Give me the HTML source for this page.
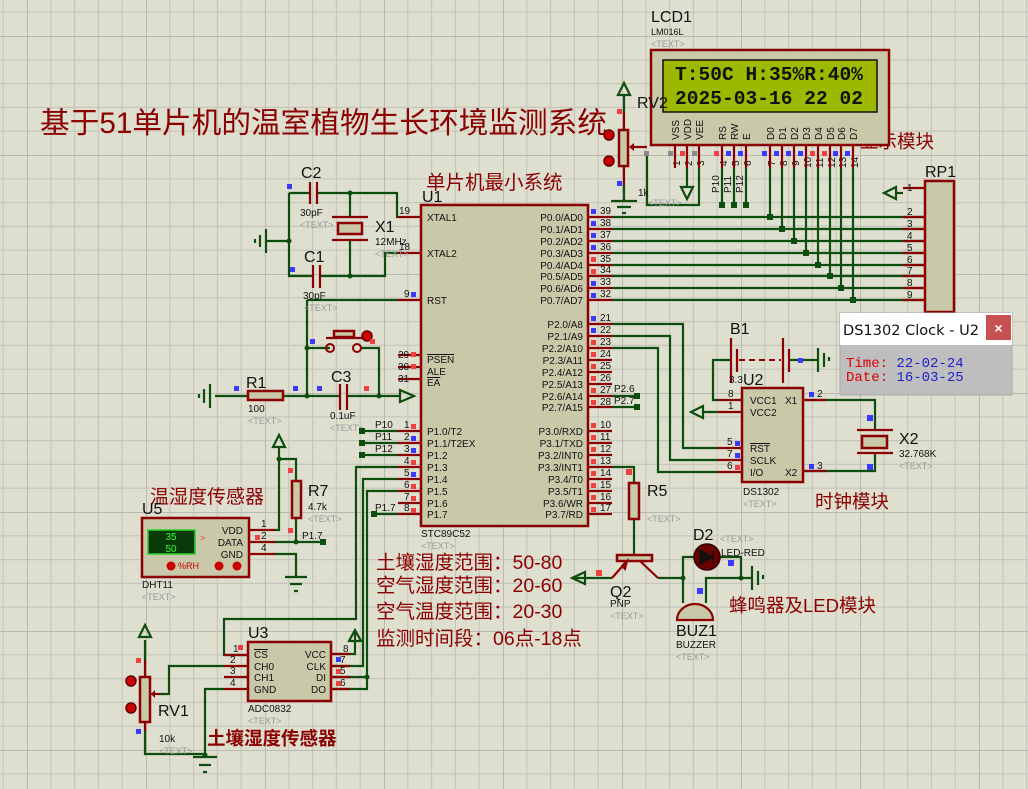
<!DOCTYPE html>
<html><head><meta charset="utf-8"><style>
html,body{margin:0;padding:0;background:#dfdfd0;}
svg{display:block;}
text{font-family:"Liberation Sans","Noto Sans CJK SC",sans-serif;}
text.mono,text.mono tspan{font-family:"Liberation Mono","DejaVu Sans Mono",monospace;}
text.dj{font-family:"DejaVu Sans","Liberation Sans",sans-serif;}
.w{stroke:#0d4d0d;stroke-width:2.2;fill:none;}
.p{stroke:#8b0000;stroke-width:2.2;fill:none;}
.b{stroke:#8b0000;stroke-width:2.5;fill:#c9c9aa;}
.s{font-size:10px;fill:#111;}
.t{font-size:9px;fill:#999;}
.cn{fill:#8b0000;}
.lb{font-size:16px;fill:#111;}
.n{font-size:10px;fill:#111;}
</style></head><body>
<svg width="1028" height="789" viewBox="0 0 1028 789" xmlns="http://www.w3.org/2000/svg">
<defs>
<pattern id="g" x="27" y="36" width="119" height="119" patternUnits="userSpaceOnUse">
<path d="M23.8 0V119M47.6 0V119M71.4 0V119M95.2 0V119M0 23.8H119M0 47.6H119M0 71.4H119M0 95.2H119" stroke="#c6c6bb" stroke-width="1.2"/>
<path d="M0 0V119M0 0H119" stroke="#b9b9b0" stroke-width="2"/>
</pattern>
</defs>
<rect width="1028" height="789" fill="#dfdfd0"/>
<rect width="1028" height="789" fill="url(#g)"/>

<!-- Title -->
<text x="40" y="133" class="cn" font-size="29.5" textLength="567" lengthAdjust="spacingAndGlyphs">基于51单片机的温室植物生长环境监测系统</text>
<text x="426" y="189" class="cn" font-size="19.5">单片机最小系统</text>
<text x="860" y="148" class="cn" font-size="18.5">显示模块</text>
<text x="150" y="503" class="cn" font-size="19">温湿度传感器</text>
<text x="207" y="745" class="cn" font-size="18.5" font-weight="bold">土壤湿度传感器</text>
<text x="815" y="508" class="cn" font-size="18.5">时钟模块</text>
<text x="729" y="612" class="cn" font-size="18.5">蜂鸣器及LED模块</text>
<g class="cn" font-size="19.5">
<text x="376" y="569">土壤湿度范围：50-80</text>
<text x="376" y="592">空气湿度范围：20-60</text>
<text x="376" y="618">空气温度范围：20-30</text>
<text x="376" y="645">监测时间段：06点-18点</text>
</g>

<!-- U1 -->
<rect x="421" y="205" width="167" height="321" class="b"/>
<text x="422" y="202" class="lb">U1</text>
<text x="421" y="537" class="s">STC89C52</text><text x="421" y="549" class="t">&lt;TEXT&gt;</text>
<g class="p">
<path d="M398 217H421M398 253H421M398 300H421M398 355H421M398 367H421M398 379H421"/>
<path d="M398 431H421M398 443H421M398 455H421M398 467H421M398 479H421M398 491H421M398 503H421M398 514H421"/>
<path d="M588 217H612M588 229H612M588 241H612M588 253H612M588 265H612M588 276H612M588 288H612M588 300H612"/>
<path d="M588 324H612M588 336H612M588 348H612M588 360H612M588 372H612M588 384H612M588 396H612M588 407H612"/>
<path d="M588 431H612M588 443H612M588 455H612M588 467H612M588 479H612M588 491H612M588 503H612M588 514H612"/>
</g>
<g class="s">
<text x="427" y="221">XTAL1</text><text x="427" y="257">XTAL2</text><text x="427" y="304">RST</text>
<text x="427" y="363" text-decoration="overline">PSEN</text><text x="427" y="375">ALE</text><text x="427" y="386" text-decoration="overline">EA</text>
<text x="427" y="435">P1.0/T2</text><text x="427" y="447">P1.1/T2EX</text><text x="427" y="459">P1.2</text><text x="427" y="471">P1.3</text><text x="427" y="483">P1.4</text><text x="427" y="495">P1.5</text><text x="427" y="507">P1.6</text><text x="427" y="518">P1.7</text>
</g>
<g class="s" text-anchor="end">
<text x="583" y="221">P0.0/AD0</text><text x="583" y="233">P0.1/AD1</text><text x="583" y="245">P0.2/AD2</text><text x="583" y="257">P0.3/AD3</text><text x="583" y="269">P0.4/AD4</text><text x="583" y="280">P0.5/AD5</text><text x="583" y="292">P0.6/AD6</text><text x="583" y="304">P0.7/AD7</text>
<text x="583" y="328">P2.0/A8</text><text x="583" y="340">P2.1/A9</text><text x="583" y="352">P2.2/A10</text><text x="583" y="364">P2.3/A11</text><text x="583" y="376">P2.4/A12</text><text x="583" y="388">P2.5/A13</text><text x="583" y="400">P2.6/A14</text><text x="583" y="411">P2.7/A15</text>
<text x="583" y="435">P3.0/RXD</text><text x="583" y="447">P3.1/TXD</text><text x="583" y="459">P3.2/INT0</text><text x="583" y="471">P3.3/INT1</text><text x="583" y="483">P3.4/T0</text><text x="583" y="495">P3.5/T1</text><text x="583" y="507">P3.6/WR</text><text x="583" y="518">P3.7/RD</text>
</g>
<g class="n">
<text x="399" y="214">19</text><text x="399" y="250">18</text><text x="404" y="297">9</text><text x="398" y="358">29</text><text x="398" y="370">30</text><text x="398" y="382">31</text>
<text x="404" y="428">1</text><text x="404" y="440">2</text><text x="404" y="452">3</text><text x="404" y="464">4</text><text x="404" y="476">5</text><text x="404" y="488">6</text><text x="404" y="500">7</text><text x="404" y="511">8</text>
<text x="600" y="214">39</text><text x="600" y="226">38</text><text x="600" y="238">37</text><text x="600" y="250">36</text><text x="600" y="262">35</text><text x="600" y="273">34</text><text x="600" y="285">33</text><text x="600" y="297">32</text>
<text x="600" y="321">21</text><text x="600" y="333">22</text><text x="600" y="345">23</text><text x="600" y="357">24</text><text x="600" y="369">25</text><text x="600" y="381">26</text><text x="600" y="393">27</text><text x="600" y="405">28</text>
<text x="600" y="428">10</text><text x="600" y="440">11</text><text x="600" y="452">12</text><text x="600" y="464">13</text><text x="600" y="476">14</text><text x="600" y="488">15</text><text x="600" y="500">16</text><text x="600" y="511">17</text>
</g>
<g fill="#3a3aff"><rect x="591" y="209" width="5" height="5"/><rect x="591" y="221" width="5" height="5"/><rect x="591" y="233" width="5" height="5"/><rect x="591" y="245" width="5" height="5"/><rect x="591" y="281" width="5" height="5"/><rect x="591" y="293" width="5" height="5"/><rect x="591" y="316" width="5" height="5"/><rect x="591" y="328" width="5" height="5"/><rect x="411" y="292" width="5" height="5"/><rect x="411" y="436" width="5" height="5"/><rect x="411" y="448" width="5" height="5"/><rect x="411" y="472" width="5" height="5"/></g>
<g fill="#f04040"><rect x="591" y="257" width="5" height="5"/><rect x="591" y="269" width="5" height="5"/><rect x="591" y="340" width="5" height="5"/><rect x="591" y="352" width="5" height="5"/><rect x="591" y="364" width="5" height="5"/><rect x="591" y="376" width="5" height="5"/><rect x="591" y="388" width="5" height="5"/><rect x="591" y="400" width="5" height="5"/><rect x="591" y="423" width="5" height="5"/><rect x="591" y="435" width="5" height="5"/><rect x="591" y="447" width="5" height="5"/><rect x="591" y="459" width="5" height="5"/><rect x="591" y="471" width="5" height="5"/><rect x="591" y="483" width="5" height="5"/><rect x="591" y="495" width="5" height="5"/><rect x="591" y="507" width="5" height="5"/><rect x="411" y="352" width="5" height="5"/><rect x="411" y="364" width="5" height="5"/><rect x="411" y="424" width="5" height="5"/><rect x="411" y="460" width="5" height="5"/><rect x="411" y="484" width="5" height="5"/><rect x="411" y="496" width="5" height="5"/><rect x="411" y="508" width="5" height="5"/></g>

<!-- Crystal / caps -->
<g class="w">
<path d="M289 193H310M317 193H397V217H398M350 193V217M350 240V276M289 193V276H313M320 276H385V253H398M289 241H266"/>
<path d="M307 300H398M307 300V396M307 348H330M361 348H379V396M215 396H248M283 396H340M347 396H400"/>
</g>
<g class="p">
<path d="M310 182V204M317 182V204M313 265V288M320 265V288M332 217H368M332 240H368"/>
<path d="M326 338H362"/>
</g>
<rect x="338" y="223" width="24" height="11" class="b" stroke-width="2"/>
<path d="M266 229V253M260 235V247M255 239V243" stroke="#0d4d0d" stroke-width="2.2"/>
<circle cx="289" cy="241" r="2.5" fill="#0d4d0d"/><circle cx="350" cy="193" r="2.5" fill="#0d4d0d"/><circle cx="350" cy="276" r="2.5" fill="#0d4d0d"/><circle cx="307" cy="348" r="2.5" fill="#0d4d0d"/><circle cx="307" cy="396" r="2.5" fill="#0d4d0d"/><circle cx="379" cy="396" r="2.5" fill="#0d4d0d"/>
<text x="301" y="178" class="lb">C2</text><text x="300" y="216" class="s">30pF</text><text x="300" y="228" class="t">&lt;TEXT&gt;</text>
<text x="375" y="232" class="lb">X1</text><text x="375" y="245" class="s">12MHz</text><text x="375" y="257" class="t">&lt;TEXT&gt;</text>
<text x="304" y="262" class="lb">C1</text><text x="303" y="299" class="s">30pF</text><text x="304" y="311" class="t">&lt;TEXT&gt;</text>
<g fill="#3a3aff"><rect x="287" y="184" width="5" height="5"/><rect x="290" y="267" width="5" height="5"/><rect x="310" y="339" width="5" height="5"/><rect x="234" y="386" width="5" height="5"/><rect x="293" y="386" width="5" height="5"/><rect x="317" y="386" width="5" height="5"/></g>
<!-- button -->
<circle cx="330" cy="348" r="4" fill="none" stroke="#8b0000" stroke-width="2"/><circle cx="357" cy="348" r="4" fill="none" stroke="#8b0000" stroke-width="2"/>
<rect x="334" y="331" width="20" height="6" class="b" stroke-width="2"/>
<circle cx="367" cy="336" r="5" fill="#c00" stroke="#600" stroke-width="1.5"/>
<rect x="370" y="339" width="5" height="5" fill="#f04040"/>
<!-- R1 C3 -->
<path d="M210 384V408M204 389V403M199 394V398" stroke="#0d4d0d" stroke-width="2.2"/>
<rect x="248" y="391" width="35" height="9" class="b" stroke-width="2"/>
<path d="M340 384V410M347 384V410" class="p"/>
<path d="M400 390L414 396L400 402Z" fill="none" stroke="#0d4d0d" stroke-width="2.2"/>
<rect x="364" y="386" width="5" height="5" fill="#f04040"/>
<text x="246" y="388" class="lb">R1</text><text x="248" y="412" class="s">100</text><text x="248" y="424" class="t">&lt;TEXT&gt;</text>
<text x="331" y="382" class="lb">C3</text><text x="330" y="419" class="s">0.1uF</text><text x="330" y="431" class="t">&lt;TEXT&gt;</text>

<!-- P1 wires -->
<g class="w">
<path d="M362 431H398M362 443H398M362 455H398M398 467H356V619H224V655H248M398 479H363V666H331M398 491H367V689H331M367 677H331M398 514H374"/>
<path d="M331 654H355V630"/>
</g>
<g fill="#0d4d0d"><rect x="359" y="428" width="6" height="6"/><rect x="359" y="440" width="6" height="6"/><rect x="359" y="452" width="6" height="6"/><rect x="371" y="511" width="6" height="6"/><circle cx="367" cy="677" r="2.5"/></g>
<g class="s"><text x="375" y="428">P10</text><text x="375" y="440">P11</text><text x="375" y="452">P12</text><text x="375" y="511">P1.7</text></g>

<!-- U3 ADC0832 -->
<rect x="248" y="642" width="83" height="59" class="b"/>
<path d="M224 655H248M224 666H248M224 677H248M224 689H248M331 654H350M331 666H350M331 677H350M331 689H350" class="p"/>
<text x="248" y="638" class="lb">U3</text>
<g class="s"><text x="254" y="658" text-decoration="overline">CS</text><text x="254" y="670">CH0</text><text x="254" y="681">CH1</text><text x="254" y="693">GND</text></g>
<g class="s" text-anchor="end"><text x="326" y="658">VCC</text><text x="326" y="670">CLK</text><text x="326" y="681">DI</text><text x="326" y="693">DO</text></g>
<g class="n"><text x="233" y="652">1</text><text x="230" y="663">2</text><text x="230" y="674">3</text><text x="230" y="686">4</text><text x="343" y="652">8</text><text x="340" y="663">7</text><text x="340" y="674">5</text><text x="340" y="686">6</text></g>
<rect x="238" y="645" width="5" height="5" fill="#f04040"/><rect x="336" y="657" width="5" height="5" fill="#3a3aff"/><rect x="336" y="669" width="5" height="5" fill="#f04040"/><rect x="336" y="681" width="5" height="5" fill="#f04040"/>
<path d="M349 641L355 630L361 641Z" fill="none" stroke="#0d4d0d" stroke-width="2.2"/>
<text x="248" y="712" class="s">ADC0832</text><text x="248" y="724" class="t">&lt;TEXT&gt;</text>
<g class="w"><path d="M224 666H169V694H160M224 689H205V755M145 640V660M145 730V754H205"/><path d="M193 757H217M199 765H211M203 772H207"/></g>
<path d="M145 660V677M145 722V731" class="p"/>
<rect x="140" y="677" width="10" height="45" class="b" stroke-width="2"/>
<path d="M160 694L151 694" class="p"/><path d="M155 690L151 694L155 698" fill="#8b0000"/>
<path d="M139 637L145 625L151 637Z" fill="none" stroke="#0d4d0d" stroke-width="2.2"/>
<circle cx="131" cy="681" r="5" fill="#c00" stroke="#600" stroke-width="1.5"/><circle cx="131" cy="708" r="5" fill="#c00" stroke="#600" stroke-width="1.5"/>
<rect x="136" y="658" width="5" height="5" fill="#f04040"/><rect x="136" y="729" width="5" height="5" fill="#3a3aff"/>
<circle cx="205" cy="755" r="2.5" fill="#0d4d0d"/>
<text x="158" y="716" class="lb" font-size="18">RV1</text><text x="159" y="742" class="s">10k</text><text x="159" y="754" class="t">&lt;TEXT&gt;</text>

<!-- U5 DHT11 -->
<rect x="142" y="518" width="107" height="59" class="b"/>
<rect x="148" y="530" width="47" height="24" fill="#0a3a0a" stroke="#2ad02a" stroke-width="1.5"/>
<text x="171" y="540" font-size="10" fill="#3f3" text-anchor="middle">35</text><text x="171" y="552" font-size="10" fill="#3f3" text-anchor="middle">50</text>
<text x="200" y="541" font-size="9" fill="#e33">&gt;</text>
<circle cx="171" cy="566" r="4.5" fill="#c00"/><text x="178" y="569" font-size="9" fill="#c00">%RH</text>
<circle cx="219" cy="566" r="4.5" fill="#c00"/><circle cx="237" cy="566" r="4.5" fill="#c00"/>
<g class="s" text-anchor="end"><text x="243" y="534">VDD</text><text x="243" y="546">DATA</text><text x="243" y="558">GND</text></g>
<path d="M249 530H275M249 542H275M249 554H275" class="p"/>
<g class="n"><text x="261" y="527">1</text><text x="261" y="539">2</text><text x="261" y="551">4</text></g>
<rect x="255" y="535" width="5" height="5" fill="#f04040"/>
<g class="w"><path d="M275 530H279V447M279 459H296V481M296 518V542M275 542H323M275 554H296V576M285 577H307M290 584H302M294 591H298"/></g>
<path d="M273 447L279 435L285 447Z" fill="none" stroke="#0d4d0d" stroke-width="2.2"/>
<rect x="292" y="481" width="9" height="37" class="b" stroke-width="2"/>
<rect x="288" y="468" width="5" height="5" fill="#f04040"/><rect x="288" y="528" width="5" height="5" fill="#f04040"/>
<circle cx="279" cy="459" r="2.5" fill="#0d4d0d"/><circle cx="296" cy="542" r="2.5" fill="#0d4d0d"/><rect x="320" y="539" width="6" height="6" fill="#0d4d0d"/>
<text x="142" y="514" class="lb">U5</text><text x="142" y="588" class="s">DHT11</text><text x="142" y="600" class="t">&lt;TEXT&gt;</text>
<text x="308" y="496" class="lb">R7</text><text x="308" y="510" class="s">4.7k</text><text x="308" y="522" class="t">&lt;TEXT&gt;</text>
<text x="302" y="539" class="s">P1.7</text>

<!-- LCD -->
<text x="651" y="22" class="lb">LCD1</text><text x="651" y="35" font-size="9" fill="#111">LM016L</text><text x="651" y="47" class="t">&lt;TEXT&gt;</text>
<rect x="651" y="50" width="238" height="95" class="b"/>
<rect x="663" y="60" width="214" height="52" fill="#9cb800" stroke="#111" stroke-width="1.5"/>
<text x="675" y="80" class="mono" font-size="19.5" font-weight="bold" fill="#111" textLength="188" lengthAdjust="spacing">T:50C H:35%R:40%</text>
<text x="675" y="104" class="mono" font-size="19.5" font-weight="bold" fill="#111" textLength="188" lengthAdjust="spacing">2025-03-16 22 02</text>
<g class="s" font-size="9">
<text transform="translate(679,140) rotate(-90)">VSS</text><text transform="translate(691,140) rotate(-90)">VDD</text><text transform="translate(703,140) rotate(-90)">VEE</text>
<text transform="translate(726,140) rotate(-90)">RS</text><text transform="translate(738,140) rotate(-90)">RW</text><text transform="translate(750,140) rotate(-90)">E</text>
<text transform="translate(774,140) rotate(-90)">D0</text><text transform="translate(786,140) rotate(-90)">D1</text><text transform="translate(798,140) rotate(-90)">D2</text><text transform="translate(810,140) rotate(-90)">D3</text><text transform="translate(822,140) rotate(-90)">D4</text><text transform="translate(834,140) rotate(-90)">D5</text><text transform="translate(845,140) rotate(-90)">D6</text><text transform="translate(857,140) rotate(-90)">D7</text>
</g>
<g class="n" font-size="9">
<text transform="translate(680,166) rotate(-90)">1</text><text transform="translate(692,166) rotate(-90)">2</text><text transform="translate(704,166) rotate(-90)">3</text><text transform="translate(727,166) rotate(-90)">4</text><text transform="translate(739,166) rotate(-90)">5</text><text transform="translate(751,166) rotate(-90)">6</text><text transform="translate(775,166) rotate(-90)">7</text><text transform="translate(787,166) rotate(-90)">8</text><text transform="translate(799,166) rotate(-90)">9</text><text transform="translate(811,168) rotate(-90)">10</text><text transform="translate(823,168) rotate(-90)">11</text><text transform="translate(835,168) rotate(-90)">12</text><text transform="translate(846,168) rotate(-90)">13</text><text transform="translate(858,168) rotate(-90)">14</text>
<text transform="translate(719,193) rotate(-90)">P10</text><text transform="translate(731,193) rotate(-90)">P11</text><text transform="translate(743,193) rotate(-90)">P12</text>
</g>
<path d="M675 145V168M687 145V168M699 145V168M722 145V168M734 145V168M746 145V168M770 145V168M782 145V168M794 145V168M806 145V168M818 145V168M830 145V168M841 145V168M853 145V168" class="p"/>
<g class="w">
<path d="M687 168V187M699 168V205H647V153M722 168V205M734 168V205M746 168V205"/>
<path d="M770 168V217M782 168V229M794 168V241M806 168V253M818 168V265M830 168V276M841 168V288M853 168V300"/>
<path d="M612 217H924M612 229H924M612 241H924M612 253H924M612 265H924M612 276H924M612 288H924M612 300H924"/>
</g>
<path d="M681 187H693L687 199Z" fill="none" stroke="#0d4d0d" stroke-width="2.2"/>
<g fill="#0d4d0d"><rect x="719" y="202" width="6" height="6"/><rect x="731" y="202" width="6" height="6"/><rect x="743" y="202" width="6" height="6"/>
<rect x="767" y="214" width="6" height="6"/><rect x="779" y="226" width="6" height="6"/><rect x="791" y="238" width="6" height="6"/><rect x="803" y="250" width="6" height="6"/><rect x="815" y="262" width="6" height="6"/><rect x="827" y="273" width="6" height="6"/><rect x="838" y="285" width="6" height="6"/><rect x="850" y="297" width="6" height="6"/></g>
<g fill="#3a3aff"><rect x="726" y="151" width="5" height="5"/><rect x="738" y="151" width="5" height="5"/><rect x="762" y="151" width="5" height="5"/><rect x="774" y="151" width="5" height="5"/><rect x="786" y="151" width="5" height="5"/><rect x="798" y="151" width="5" height="5"/><rect x="833" y="151" width="5" height="5"/><rect x="845" y="151" width="5" height="5"/></g>
<g fill="#f04040"><rect x="680" y="151" width="5" height="5"/><rect x="714" y="151" width="5" height="5"/><rect x="810" y="151" width="5" height="5"/><rect x="822" y="151" width="5" height="5"/></g>
<g fill="#888"><rect x="668" y="151" width="5" height="5"/><rect x="692" y="151" width="5" height="5"/><rect x="644" y="151" width="5" height="5"/></g>

<!-- RV2 -->
<path d="M618 95L624 83L630 95Z" fill="none" stroke="#0d4d0d" stroke-width="2.2"/>
<g class="w"><path d="M624 95V112M624 185V201M611 201H637M617 207H631M622 213H626"/></g>
<path d="M624 112V130M624 166V185M647 147H630" class="p"/>
<path d="M634 143L629 147L634 151Z" fill="#8b0000"/>
<rect x="619" y="130" width="9" height="36" class="b" stroke-width="2"/>
<circle cx="609" cy="135" r="5" fill="#c00" stroke="#600" stroke-width="1.5"/><circle cx="609" cy="161" r="5" fill="#c00" stroke="#600" stroke-width="1.5"/>
<rect x="617" y="109" width="5" height="5" fill="#f04040"/><rect x="617" y="181" width="5" height="5" fill="#3a3aff"/>
<text x="637" y="108" class="lb" font-size="18">RV2</text><text x="638" y="196" class="s">1k</text><text x="648" y="206" class="t">&lt;TEXT&gt;</text>

<!-- RP1 -->
<rect x="925" y="181" width="29" height="131" class="b"/>
<text x="925" y="177" class="lb">RP1</text>
<path d="M903 188H925M903 217H925M903 229H925M903 241H925M903 253H925M903 265H925M903 276H925M903 288H925M903 300H925" class="p"/>
<g class="n"><text x="907" y="191">1</text><text x="907" y="215">2</text><text x="907" y="227">3</text><text x="907" y="239">4</text><text x="907" y="251">5</text><text x="907" y="263">6</text><text x="907" y="274">7</text><text x="907" y="286">8</text><text x="907" y="298">9</text></g>
<path d="M903 193H896" class="w"/><path d="M896 187L884 193L896 199Z" fill="none" stroke="#0d4d0d" stroke-width="2.2"/>

<!-- P2 wires / DS1302 -->
<g class="w">
<path d="M612 324H683V448H718M612 336H670V460H718M612 348H658V472H718M612 396H637M612 407H637"/>
<path d="M718 400H713V360H731M789 360H818M718 412H703"/>
<path d="M803 400H875V430M875 453V471H803"/>
</g>
<rect x="634" y="393" width="6" height="6" fill="#0d4d0d"/><rect x="634" y="404" width="6" height="6" fill="#0d4d0d"/>
<text x="614" y="392" class="s">P2.6</text><text x="614" y="404" class="s">P2.7</text>
<path d="M818 348V372M824 353V367M829 357V361" stroke="#0d4d0d" stroke-width="2.2"/>
<path d="M731 338V383M737 349V372M783 338V383M789 349V372" class="p"/>
<path d="M739 360H781" stroke="#8b0000" stroke-width="2" stroke-dasharray="6,4"/>
<rect x="798" y="358" width="5" height="5" fill="#3a3aff"/>
<text x="730" y="334" class="lb">B1</text><text x="729" y="383" class="s">3.3</text>
<path d="M703 406L691 412L703 418Z" fill="none" stroke="#0d4d0d" stroke-width="2.2"/>
<rect x="742" y="388" width="61" height="94" class="b"/>
<text x="743" y="385" class="lb">U2</text>
<path d="M718 400H742M718 412H742M718 448H742M718 460H742M718 472H742M803 400H826M803 471H826" class="p"/>
<g class="s"><text x="750" y="404">VCC1</text><text x="750" y="416">VCC2</text><text x="750" y="452" text-decoration="overline">RST</text><text x="750" y="464">SCLK</text><text x="750" y="476">I/O</text><text x="785" y="404">X1</text><text x="785" y="476">X2</text></g>
<g class="n"><text x="728" y="397">8</text><text x="728" y="409">1</text><text x="727" y="445">5</text><text x="727" y="457">7</text><text x="727" y="469">6</text><text x="817" y="397">2</text><text x="817" y="469">3</text></g>
<rect x="735" y="441" width="5" height="5" fill="#3a3aff"/><rect x="735" y="453" width="5" height="5" fill="#3a3aff"/><rect x="735" y="465" width="5" height="5" fill="#f04040"/><rect x="809" y="392" width="5" height="5" fill="#3a3aff"/><rect x="809" y="464" width="5" height="5" fill="#3a3aff"/>
<text x="743" y="495" class="s">DS1302</text><text x="743" y="507" class="t">&lt;TEXT&gt;</text>
<path d="M857 430H893M857 453H893" class="p"/>
<rect x="862" y="436" width="25" height="12" class="b" stroke-width="2"/>
<rect x="867" y="415" width="6" height="6" fill="#3a3aff"/><rect x="867" y="464" width="6" height="6" fill="#3a3aff"/>
<text x="899" y="444" class="lb">X2</text><text x="899" y="457" class="s">32.768K</text><text x="899" y="469" class="t">&lt;TEXT&gt;</text>

<!-- R5 / Q2 / LED / buzzer -->
<g class="w"><path d="M612 467H634V483M634 519V555M612 578H572M658 578H683V557H698M683 578V603M706 603V578H741M718 557H741V578M741 578H752"/></g>
<path d="M752 566V590M758 571V585M763 575V579" stroke="#0d4d0d" stroke-width="2.2"/>
<rect x="629" y="483" width="10" height="36" class="b" stroke-width="2"/>
<rect x="617" y="555" width="35" height="6" class="b" stroke-width="2"/>
<path d="M627 561L612 578M640 561L658 578" class="p"/>
<path d="M622 566L627 561L625 569Z" fill="#8b0000" stroke="#8b0000" stroke-width="2"/>
<path d="M585 572L572 578L585 584Z" fill="none" stroke="#0d4d0d" stroke-width="2.2"/>
<rect x="596" y="570" width="6" height="6" fill="#f04040"/><rect x="626" y="469" width="6" height="6" fill="#f04040"/>
<circle cx="707" cy="557" r="13" fill="#6a0000" stroke="#300" stroke-width="1.5"/>
<path d="M700 550V564L712 557Z M713 550V564" fill="#111" stroke="#111" stroke-width="1.5"/>
<rect x="728" y="560" width="6" height="6" fill="#3a3aff"/><rect x="697" y="588" width="6" height="6" fill="#3a3aff"/>
<circle cx="683" cy="578" r="2.5" fill="#0d4d0d"/><circle cx="741" cy="578" r="2.5" fill="#0d4d0d"/>
<path d="M677 620A18 16 0 0 1 713 620Z" fill="#c9c9aa" stroke="#8b0000" stroke-width="2.2"/>
<text x="647" y="496" class="lb">R5</text><text x="647" y="522" class="t">&lt;TEXT&gt;</text>
<text x="693" y="540" class="lb">D2</text><text x="720" y="542" class="t">&lt;TEXT&gt;</text><text x="721" y="556" class="s">LED-RED</text>
<text x="610" y="597" class="lb">Q2</text><text x="610" y="607" class="s">PNP</text><text x="610" y="619" class="t">&lt;TEXT&gt;</text>
<text x="676" y="636" class="lb">BUZ1</text><text x="676" y="648" class="s">BUZZER</text><text x="676" y="660" class="t">&lt;TEXT&gt;</text>

<!-- popup -->
<rect x="840" y="313" width="172" height="82" fill="#bebebe" stroke="#aaa" stroke-width="1"/>
<rect x="840" y="313" width="172" height="32" fill="#fff"/>
<rect x="986" y="315" width="25" height="25" fill="#c75050"/>
<text x="998.5" y="333" font-size="14" fill="#fff" text-anchor="middle" font-weight="bold">×</text>
<text x="843" y="335" font-size="14" fill="#111" class="dj" textLength="136" lengthAdjust="spacingAndGlyphs">DS1302 Clock - U2</text>
<text x="846" y="367" class="mono" font-size="14"><tspan fill="#d00">Time:</tspan><tspan fill="#2020d0"> 22-02-24</tspan></text>
<text x="846" y="381" class="mono" font-size="14"><tspan fill="#d00">Date:</tspan><tspan fill="#2020d0"> 16-03-25</tspan></text>
</svg>
</body></html>
